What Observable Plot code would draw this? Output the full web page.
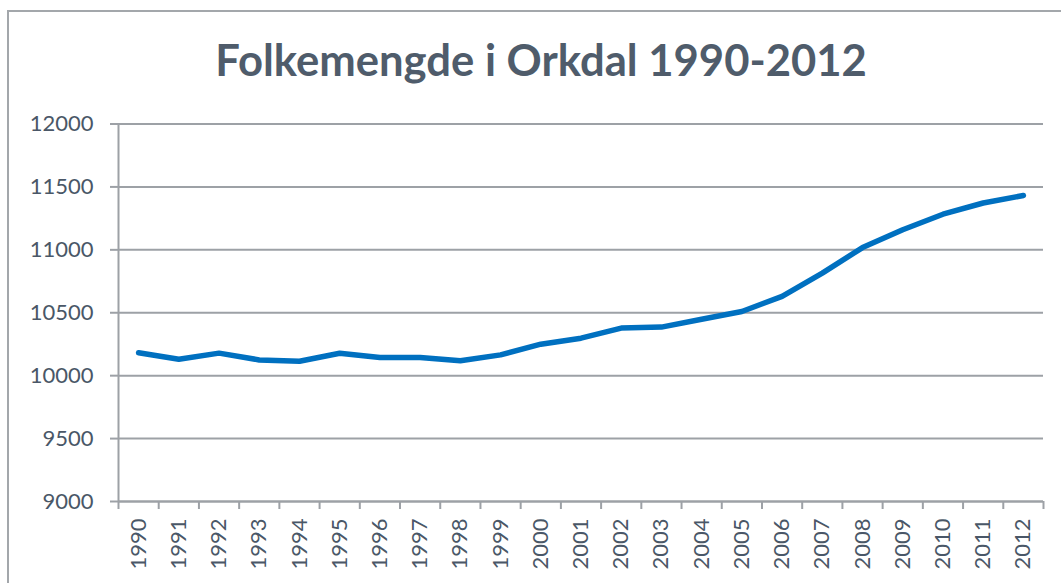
<!DOCTYPE html>
<html>
<head>
<meta charset="utf-8">
<script src="https://cdn.jsdelivr.net/npm/d3@7"></script>
<script src="https://cdn.jsdelivr.net/npm/@observablehq/plot@0.6"></script>
<style>
  html, body { margin: 0; padding: 0; background: #ffffff; }
  #wrap { position: relative; width: 1061px; height: 583px; overflow: hidden; background: #ffffff; }
  #frame { position: absolute; left: 7px; top: 10px; width: 2000px; height: 2000px; border: 2px solid #a3a7ab; box-sizing: border-box; }
  #title { position: absolute; left: 541px; top: 38px; transform: translateX(-50%); white-space: nowrap;
           font-family: Lato, "Open Sans", sans-serif; font-weight: bold; font-size: 43.6px; line-height: 1; color: #4f5c6b; }
  #chart { position: absolute; left: 0; top: 100px; }
</style>
</head>
<body>
<div id="wrap">
  <div id="frame"></div>
  <div id="title">Folkemengde i Orkdal 1990-2012</div>
  <div id="chart"></div>
</div>
<script>
const years = [1990, 1991, 1992, 1993, 1994, 1995, 1996, 1997, 1998, 1999, 2000, 2001,
               2002, 2003, 2004, 2005, 2006, 2007, 2008, 2009, 2010, 2011, 2012];
const population = [10182, 10131, 10179, 10125, 10115, 10178, 10145, 10145, 10118, 10165, 10250, 10298,
                    10378, 10386, 10448, 10510, 10630, 10815, 11018, 11160, 11283, 11372, 11432];
const yTicks = [9000, 9500, 10000, 10500, 11000, 11500, 12000];

const data = years.map((year, i) => ({year, value: population[i]}));
const boundaries = years.map(y => y - 0.5).concat([years[years.length - 1] + 0.5]);
const gray = "#9da1a6";
const textColor = "#4a5767";

const chart = Plot.plot({
  width: 1061,
  height: 483,
  marginLeft: 118,
  marginRight: 18,
  marginTop: 23.5,
  marginBottom: 82,
  x: {type: "linear", domain: [boundaries[0], boundaries[boundaries.length - 1]]},
  y: {type: "linear", domain: [yTicks[0], yTicks[yTicks.length - 1]]},
  style: {fontFamily: "Lato, 'Open Sans', sans-serif", fontSize: "22px", color: textColor, background: "transparent", overflow: "visible"},
  marks: [
    Plot.gridY(yTicks, {stroke: gray, strokeWidth: 2, strokeOpacity: 1}),
    Plot.axisY(yTicks, {tickSize: 8, tickPadding: 17, stroke: gray, strokeWidth: 2, label: null, tickFormat: d => String(d), fill: textColor}),
    Plot.ruleX([boundaries[0]], {stroke: gray, strokeWidth: 2}),
    Plot.ruleY([yTicks[0]], {stroke: gray, strokeWidth: 2}),
    Plot.axisX(boundaries, {tickSize: 8, tickFormat: () => "", stroke: gray, strokeWidth: 2, label: null}),
    Plot.axisX(years, {tickSize: 0, tickPadding: 17, tickRotate: -90, tickFormat: d => String(d), label: null, fill: textColor}),
    Plot.line(data, {x: "year", y: "value", stroke: "#0070c0", strokeWidth: 5.5, strokeLinejoin: "round", strokeLinecap: "round"})
  ]
});
document.getElementById("chart").appendChild(chart);
</script>
</body>
</html>
